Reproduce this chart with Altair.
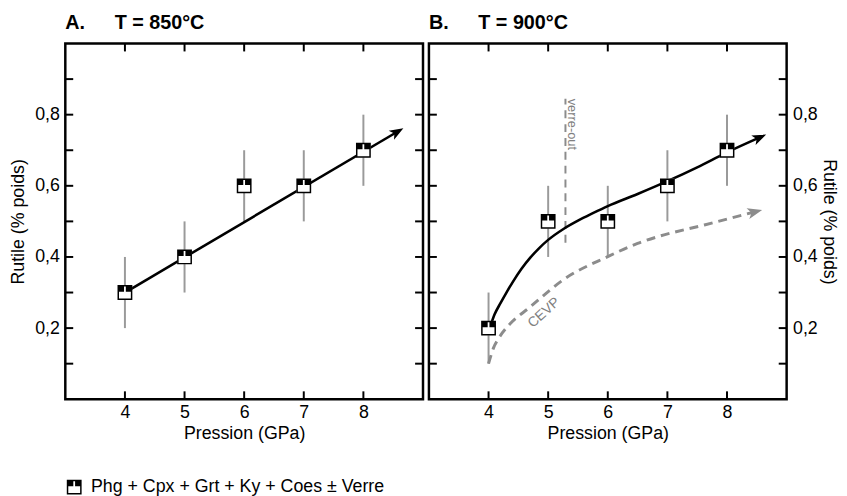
import math
import altair as alt
import pandas as pd

# ---------------- data ----------------
pressure = [4, 5, 6, 7, 8]
rutile_850 = [0.3, 0.4, 0.6, 0.6, 0.7]
rutile_900 = [0.2, 0.5, 0.5, 0.6, 0.7]
rutile_err = [0.1, 0.1, 0.1, 0.1, 0.1]

trend_850_x = [4.0, 8.57]
trend_850_y = [0.30, 0.752]

trend_900_x = [4.02, 4.1, 4.2, 4.3, 4.4, 4.55, 4.7, 4.85, 5.0, 5.25, 5.5, 5.75, 6.0,
               6.5, 7.0, 7.5, 8.0, 8.55]
trend_900_y = [0.20, 0.238, 0.27, 0.30, 0.328, 0.366, 0.398, 0.425, 0.448, 0.478, 0.502,
               0.523, 0.543, 0.577, 0.613, 0.652, 0.694, 0.736]

cevp_x = [4.0, 4.08, 4.18, 4.35, 4.68, 5.29, 6.0, 6.5, 6.84, 7.62, 8.47]
cevp_y = [0.10, 0.143, 0.174, 0.21, 0.257, 0.34, 0.401, 0.438, 0.457, 0.49, 0.527]

verre_out_x = [5.29]
verre_out_y = [0.44, 0.845]

cevp_label_pos = [4.93, 0.243]

x_ticks = [4, 5, 6, 7, 8]
y_ticks = [0.1, 0.2, 0.3, 0.4, 0.5, 0.6, 0.7, 0.8, 0.9]
y_labels = [0.2, 0.4, 0.6, 0.8]

legend_label = "Phg + Cpx + Grt + Ky + Coes \u00b1 Verre"
title_a = "A.\u2003\u2002T = 850\u00b0C"
title_b = "B.\u2003\u2002T = 900\u00b0C"

# ---------------- style ----------------
W, H = 362, 360
X_DOM = [3, 9]
Y_DOM = [0, 1]
FONT = "Liberation Sans"
GRAY_BAR = "#9a9a9a"
GRAY_DASH = "#8c8c8c"
GRAY_TEXT = "#808080"
TICK = 8

MARKER = ("M-1,-1L1,-1L1,1L-1,1Z"
          "M-0.8,-0.8L-0.8,0.8L0.8,0.8L0.8,-0.8Z"
          "M-0.8,-0.8L-0.12,-0.8L-0.12,-0.12L-0.8,-0.12Z"
          "M0.12,-0.8L0.8,-0.8L0.8,-0.12L0.12,-0.12Z")
ARROW = "M1,0L-1,-0.75L-0.5,0L-1,0.75Z"

xscale = alt.Scale(domain=X_DOM, nice=False, zero=False)
yscale = alt.Scale(domain=Y_DOM, nice=False, zero=False)
label_expr = "replace(format(datum.value, '.1f'), '.', ',')"

x_axis = alt.Axis(values=x_ticks, format="d", title="Pression (GPa)", ticks=False,
                  domain=False, grid=False, labelPadding=4, titlePadding=4)


def y_axis(orient, pad, tpad):
    return alt.Axis(orient=orient, values=y_labels, labelExpr=label_expr,
                    title="Rutile (% poids)", ticks=False, domain=False, grid=False,
                    labelPadding=pad, titlePadding=tpad)


def arrow_angle(xs, ys):
    dx = (xs[-1] - xs[-2]) * W / (X_DOM[1] - X_DOM[0])
    dy = -(ys[-1] - ys[-2]) * H / (Y_DOM[1] - Y_DOM[0])
    return math.degrees(math.atan2(dy, dx)) % 360


def panel(values, trend_x, trend_y, yax, title, with_legend, extra=None):
    X = lambda f: alt.X(f"{f}:Q", scale=xscale, axis=x_axis)
    Y = lambda f: alt.Y(f"{f}:Q", scale=yscale, axis=yax)

    pts = pd.DataFrame({"p": pressure, "r": values,
                        "lo": [v - e for v, e in zip(values, rutile_err)],
                        "hi": [v + e for v, e in zip(values, rutile_err)],
                        "phase": [legend_label] * len(pressure)})
    trend = pd.DataFrame({"p": trend_x, "r": trend_y, "o": list(range(len(trend_x)))})
    tip = trend.tail(1)

    layers = []
    layers.append(alt.Chart(pts).mark_rule(color=GRAY_BAR, strokeWidth=2).encode(
        x=X("p"), y=Y("lo"), y2="hi"))
    if extra is not None:
        layers.extend(extra(X, Y))
    layers.append(alt.Chart(trend).mark_line(color="black", strokeWidth=2.6,
                                             interpolate="monotone").encode(
        x=X("p"), y=Y("r"), order="o:Q"))
    layers.append(alt.Chart(tip).mark_point(shape=ARROW, size=200, filled=True, color="black",
                                            opacity=1, strokeWidth=0,
                                            angle=arrow_angle(trend_x, trend_y)).encode(
        x=X("p"), y=Y("r")))
    layers.append(alt.Chart(pts).mark_square(size=210, color="white", opacity=1).encode(
        x=X("p"), y=Y("r")))
    if with_legend:
        layers.append(alt.Chart(pts).mark_point(filled=True, color="black", size=225,
                                                opacity=1, strokeWidth=0).encode(
            x=X("p"), y=Y("r"),
            shape=alt.Shape("phase:N", scale=alt.Scale(domain=[legend_label], range=[MARKER]),
                            legend=alt.Legend(orient="none", legendX=0, legendY=440,
                                              title=None, labelFontSize=18, labelFont=FONT,
                                              labelColor="black", labelLimit=600,
                                              symbolSize=225, symbolStrokeWidth=0,
                                              symbolFillColor="black",
                                              labelOffset=8, padding=0))))
    else:
        layers.append(alt.Chart(pts).mark_point(shape=MARKER, filled=True, color="black",
                                                size=225, opacity=1, strokeWidth=0).encode(
            x=X("p"), y=Y("r")))

    # inward ticks on all four sides
    xt = pd.DataFrame({"v": x_ticks})
    yt = pd.DataFrame({"v": y_ticks})
    layers.append(alt.Chart(yt).mark_rule(color="black", strokeWidth=2).encode(
        y=Y("v"), x=alt.value(0), x2=alt.value(TICK)))
    layers.append(alt.Chart(yt).mark_rule(color="black", strokeWidth=2).encode(
        y=Y("v"), x=alt.value(W), x2=alt.value(W - TICK)))
    layers.append(alt.Chart(xt).mark_rule(color="black", strokeWidth=2).encode(
        x=X("v"), y=alt.value(H), y2=alt.value(H - TICK)))
    layers.append(alt.Chart(xt).mark_rule(color="black", strokeWidth=2).encode(
        x=X("v"), y=alt.value(0), y2=alt.value(TICK)))

    return alt.layer(*layers).properties(
        width=W, height=H,
        title=alt.TitleParams(title, anchor="start", frame="group", fontSize=20,
                              fontWeight="bold", font=FONT, color="black", offset=10))


def extra_b(X, Y):
    cevp = pd.DataFrame({"p": cevp_x, "r": cevp_y, "o": list(range(len(cevp_x)))})
    vr = pd.DataFrame({"p": verre_out_x, "lo": [verre_out_y[0]], "hi": [verre_out_y[1]],
                       "t": ["verre-out"]})
    lab = pd.DataFrame({"p": [cevp_label_pos[0]], "r": [cevp_label_pos[1]], "t": ["CEVP"]})
    return [
        alt.Chart(vr).mark_rule(color=GRAY_DASH, strokeWidth=2, strokeDash=[8, 6]).encode(
            x=X("p"), y=Y("lo"), y2="hi"),
        alt.Chart(vr).mark_text(angle=90, align="left", baseline="alphabetic", dy=-3,
                                fontSize=13, font=FONT, color=GRAY_TEXT).encode(
            x=X("p"), y=Y("hi"), text="t:N"),
        alt.Chart(cevp).mark_line(color=GRAY_DASH, strokeWidth=3, strokeDash=[9, 6],
                                  interpolate="monotone").encode(
            x=X("p"), y=Y("r"), order="o:Q"),
        alt.Chart(cevp.tail(1)).mark_point(shape=ARROW, size=220, filled=True,
                                           color=GRAY_DASH, opacity=1, strokeWidth=0,
                                           angle=arrow_angle(cevp_x, cevp_y)).encode(
            x=X("p"), y=Y("r")),
        alt.Chart(lab).mark_text(angle=318, align="center", baseline="middle", fontSize=14,
                                 font=FONT, color=GRAY_TEXT).encode(
            x=X("p"), y=Y("r"), text="t:N"),
    ]


panel_a = panel(rutile_850, trend_850_x, trend_850_y, y_axis("left", 6, 7), title_a, True)
panel_b = panel(rutile_900, trend_900_x, trend_900_y, y_axis("right", 6, 2), title_b, False,
                extra=extra_b)

chart = (alt.hconcat(panel_a, panel_b, spacing=0)
         .properties(padding={"left": 0, "top": 0, "right": 0, "bottom": 0})
         .configure_view(stroke="black", strokeWidth=2.5)
         .configure_axis(labelFont=FONT, titleFont=FONT, labelFontSize=18, titleFontSize=18,
                         titleFontWeight="normal", labelColor="black", titleColor="black"))

chart.save("out.html", embed_options={"renderer": "svg", "actions": False})
